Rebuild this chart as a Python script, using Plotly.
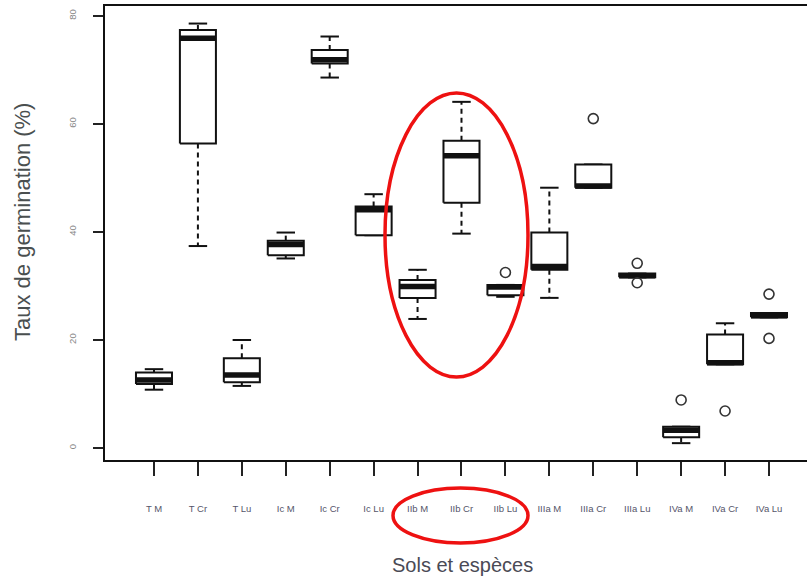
import plotly.graph_objects as go

# Germination rate (%) per soil / species combination
categories = ["T M", "T Cr", "T Lu", "Ic M", "Ic Cr", "Ic Lu",
              "IIb M", "IIb Cr", "IIb Lu", "IIIa M", "IIIa Cr", "IIIa Lu",
              "IVa M", "IVa Cr", "IVa Lu"]
lower_whisker = [10.8, 37.4, 11.5, 35.1, 68.6, 39.4, 23.9, 39.7, 28.0, 27.8, 48.2, 31.6, 0.9, 15.5, 24.2]
q1 = [11.85, 56.4, 12.2, 35.7, 71.2, 39.4, 27.8, 45.4, 28.3, 33.0, 48.2, 31.6, 2.0, 15.5, 24.2]
median = [12.6, 75.9, 13.5, 37.7, 71.9, 44.1, 29.9, 54.1, 29.8, 33.6, 48.5, 31.9, 3.3, 15.8, 24.5]
q3 = [14.0, 77.4, 16.6, 38.4, 73.7, 44.7, 31.1, 56.9, 30.2, 39.9, 52.5, 32.3, 3.95, 21.0, 25.0]
upper_whisker = [14.6, 78.6, 20.0, 39.9, 76.2, 47.0, 33.0, 64.1, 30.2, 48.2, 52.5, 32.3, 3.95, 23.1, 25.0]

outlier_groups = ["IIb Lu", "IIIa Cr", "IIIa Lu", "IIIa Lu", "IVa M", "IVa Cr", "IVa Lu", "IVa Lu"]
outlier_values = [32.5, 61.0, 34.2, 30.6, 8.9, 6.85, 28.5, 20.3]

y_ticks = [0, 20, 40, 60, 80]

BOX_HALF = 0.41
CAP_HALF = 0.21
INK = "#111111"

pos = {c: i + 1 for i, c in enumerate(categories)}

box_x, box_y = [], []
med_x, med_y = [], []
wh_x, wh_y = [], []
cap_x, cap_y = [], []
for c, lo, a, m, b, hi in zip(categories, lower_whisker, q1, median, q3, upper_whisker):
    x = pos[c]
    box_x += [x - BOX_HALF, x + BOX_HALF, x + BOX_HALF, x - BOX_HALF, x - BOX_HALF, None]
    box_y += [a, a, b, b, a, None]
    med_x += [x - BOX_HALF, x + BOX_HALF, None]
    med_y += [m, m, None]
    wh_x += [x, x, None, x, x, None]
    wh_y += [b, hi, None, a, lo, None]
    cap_x += [x - CAP_HALF, x + CAP_HALF, None, x - CAP_HALF, x + CAP_HALF, None]
    cap_y += [hi, hi, None, lo, lo, None]

fig = go.Figure()
# dashed whiskers
fig.add_trace(go.Scatter(x=wh_x, y=wh_y, mode="lines",
                         line=dict(color=INK, width=2, dash="5px,4px"),
                         hoverinfo="skip", showlegend=False))
# whisker caps
fig.add_trace(go.Scatter(x=cap_x, y=cap_y, mode="lines",
                         line=dict(color=INK, width=2),
                         hoverinfo="skip", showlegend=False))
# boxes
fig.add_trace(go.Scatter(x=box_x, y=box_y, mode="lines", fill="toself",
                         fillcolor="white", line=dict(color=INK, width=2),
                         hoverinfo="skip", showlegend=False))
# medians
fig.add_trace(go.Scatter(x=med_x, y=med_y, mode="lines",
                         line=dict(color=INK, width=5.5),
                         hoverinfo="skip", showlegend=False))
# outliers
fig.add_trace(go.Scatter(x=[pos[g] for g in outlier_groups], y=outlier_values,
                         mode="markers",
                         marker=dict(symbol="circle-open", size=10,
                                     color="#333333", line=dict(width=1.6)),
                         hoverinfo="skip", showlegend=False))

fig.update_layout(
    width=807, height=580,
    margin=dict(l=105, r=0, t=6, b=120),
    paper_bgcolor="white", plot_bgcolor="white",
    font=dict(family="Liberation Sans, Arial, sans-serif"),
    xaxis=dict(range=[-0.115, 15.865], tickvals=list(range(1, len(categories) + 1)),
               ticktext=categories, showgrid=False, zeroline=False,
               showline=True, mirror=True, linecolor=INK, linewidth=2,
               ticks="outside", ticklen=14, tickwidth=1.6, tickcolor="#222222",
               ticklabelstandoff=25,
               tickfont=dict(size=9.5, color="#55556a")),
    yaxis=dict(range=[-2.22, 81.85], tickvals=y_ticks,
               ticktext=[str(v) for v in y_ticks], showgrid=False, zeroline=False,
               showline=True, linecolor=INK, linewidth=2,
               ticks="outside", ticklen=10, tickwidth=1.6, tickcolor="#222222",
               tickangle=-90, ticklabelstandoff=13,
               tickfont=dict(size=9.5, color="#858585")),
    annotations=[
        dict(text="Taux de germination (%)", xref="paper", yref="paper",
             x=(22 - 105) / 702, y=(460 - 222) / 454, textangle=-90,
             showarrow=False, xanchor="center", yanchor="middle",
             font=dict(size=22, color="#4a4f4f")),
        dict(text="Sols et espèces", xref="paper", yref="paper",
             x=(462 - 105) / 702, y=(460 - 565) / 454,
             showarrow=False, xanchor="center", yanchor="middle",
             font=dict(size=20, color="#4a4a55")),
    ],
    shapes=[
        dict(type="circle", xref="paper", yref="paper",
             x0=(385 - 105) / 702, x1=(528 - 105) / 702,
             y0=(460 - 377) / 454, y1=(460 - 93) / 454,
             line=dict(color="#ee1111", width=3.5)),
        dict(type="circle", xref="paper", yref="paper",
             x0=(393 - 105) / 702, x1=(528 - 105) / 702,
             y0=(460 - 543) / 454, y1=(460 - 488) / 454,
             line=dict(color="#ee1111", width=3.5)),
    ],
)

fig.write_html("out.html")
